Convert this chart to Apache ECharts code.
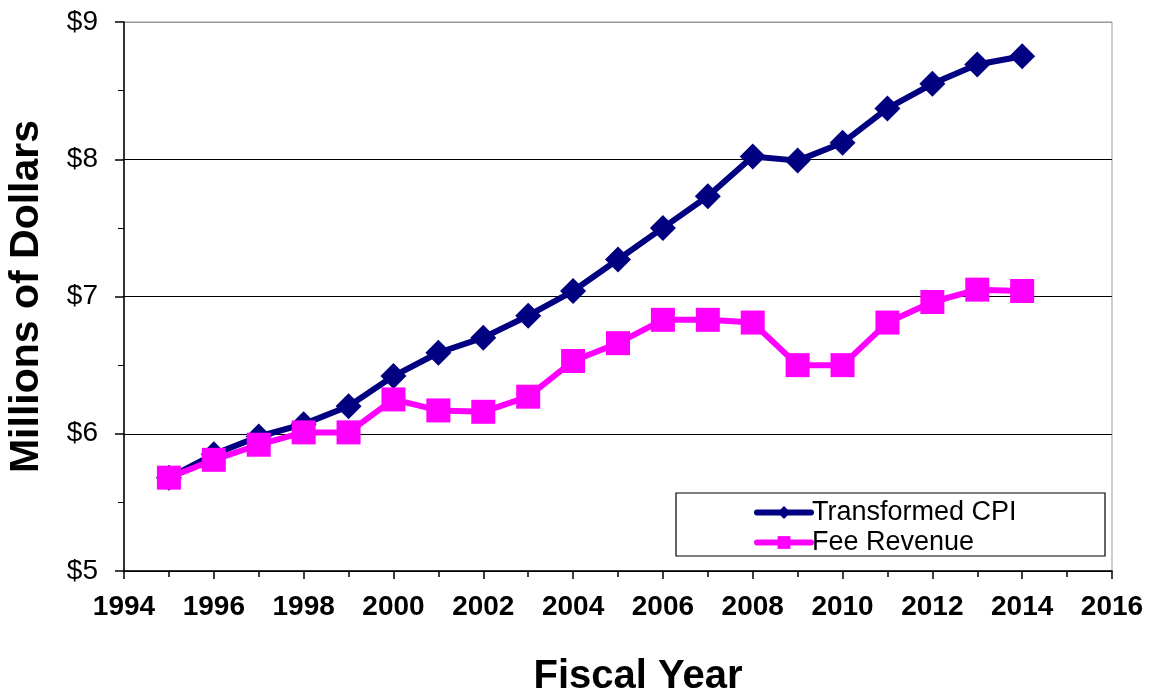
<!DOCTYPE html>
<html>
<head>
<meta charset="utf-8">
<script src="https://cdn.jsdelivr.net/npm/echarts@6/dist/echarts.min.js"></script>
<style>
  html, body { margin: 0; padding: 0; background: #fff; }
  #chart { width: 1153px; height: 696px; }
</style>
</head>
<body>
<div id="chart"></div>
<script>
// Fiscal years and dollar figures (millions)
const years = [1995, 1996, 1997, 1998, 1999, 2000, 2001, 2002, 2003, 2004,
               2005, 2006, 2007, 2008, 2009, 2010, 2011, 2012, 2013, 2014];
const transformedCPI = [5.68, 5.85, 5.98, 6.07, 6.20, 6.42, 6.59, 6.70, 6.86, 7.04,
                        7.27, 7.50, 7.73, 8.02, 7.99, 8.12, 8.37, 8.55, 8.69, 8.75];
const feeRevenue = [5.68, 5.81, 5.92, 6.01, 6.01, 6.25, 6.17, 6.16, 6.27, 6.53,
                    6.66, 6.83, 6.83, 6.81, 6.50, 6.50, 6.81, 6.96, 7.05, 7.04];
const seriesNames = ['Transformed CPI', 'Fee Revenue'];

const font = '"Liberation Sans", Arial, sans-serif';
const chart = echarts.init(document.getElementById('chart'));

chart.setOption({
  backgroundColor: '#fff',
  animation: false,
  grid: {
    left: 124, top: 22, right: 41, bottom: 125,
    outerBoundsMode: 'none',
    containLabel: false,
    show: true, borderColor: '#999', borderWidth: 1
  },
  xAxis: {
    type: 'value',
    min: 1994, max: 2016, interval: 2,
    name: 'Fiscal Year',
    nameLocation: 'middle',
    nameGap: 86,
    nameTextStyle: {
      fontFamily: font, fontSize: 40, fontWeight: 'bold', color: '#000',
      padding: [0, 0, 0, 40]
    },
    axisLine: { lineStyle: { color: '#000', width: 1.5 } },
    axisTick: { show: true, length: 8, lineStyle: { color: '#000', width: 1.5 } },
    minorTick: { show: true, splitNumber: 2, length: 6, lineStyle: { color: '#000', width: 1.5 } },
    splitLine: { show: false },
    axisLabel: {
      fontFamily: font, fontSize: 28, fontWeight: 'bold', color: '#000', margin: 22,
      formatter: v => String(v)
    }
  },
  yAxis: {
    type: 'value',
    min: 5, max: 9, interval: 1,
    name: 'Millions of Dollars',
    nameLocation: 'middle',
    nameGap: 77,
    nameRotate: 90,
    nameTextStyle: { fontFamily: font, fontSize: 41, fontWeight: 'bold', color: '#000' },
    axisLine: { show: true, lineStyle: { color: '#000', width: 1.5 } },
    axisTick: { show: true, length: 9, lineStyle: { color: '#000', width: 1.5 } },
    minorTick: { show: true, splitNumber: 2, length: 6, lineStyle: { color: '#000', width: 1 } },
    splitLine: { show: true, lineStyle: { color: ['#000', '#000', '#000', '#000', '#999'], width: 1 } },
    axisLabel: {
      fontFamily: font, fontSize: 28, color: '#000', margin: 26,
      formatter: v => '$' + v
    }
  },
  legend: {
    orient: 'vertical',
    left: 754, top: 499,
    itemWidth: 54, itemHeight: 16,
    itemGap: 3,
    padding: 0,
    lineStyle: { width: 6, cap: 'round' },
    textStyle: { fontFamily: font, fontSize: 27, color: '#000', padding: [0, 0, 0, -4] },
    data: seriesNames
  },
  graphic: [{
    type: 'rect',
    shape: { x: 676, y: 493, width: 429, height: 63 },
    style: { fill: 'none', stroke: '#000', lineWidth: 1.2 },
    z: 1
  }],
  series: [
    {
      name: seriesNames[0],
      type: 'line',
      data: years.map((y, i) => [y, transformedCPI[i]]),
      symbol: 'diamond',
      symbolSize: 26,
      lineStyle: { color: '#000080', width: 6 },
      itemStyle: { color: '#000080' },
      z: 3
    },
    {
      name: seriesNames[1],
      type: 'line',
      data: years.map((y, i) => [y, feeRevenue[i]]),
      symbol: 'rect',
      symbolSize: 24,
      lineStyle: { color: '#FF00FF', width: 6 },
      itemStyle: { color: '#FF00FF' },
      z: 4
    }
  ]
});
</script>
</body>
</html>
